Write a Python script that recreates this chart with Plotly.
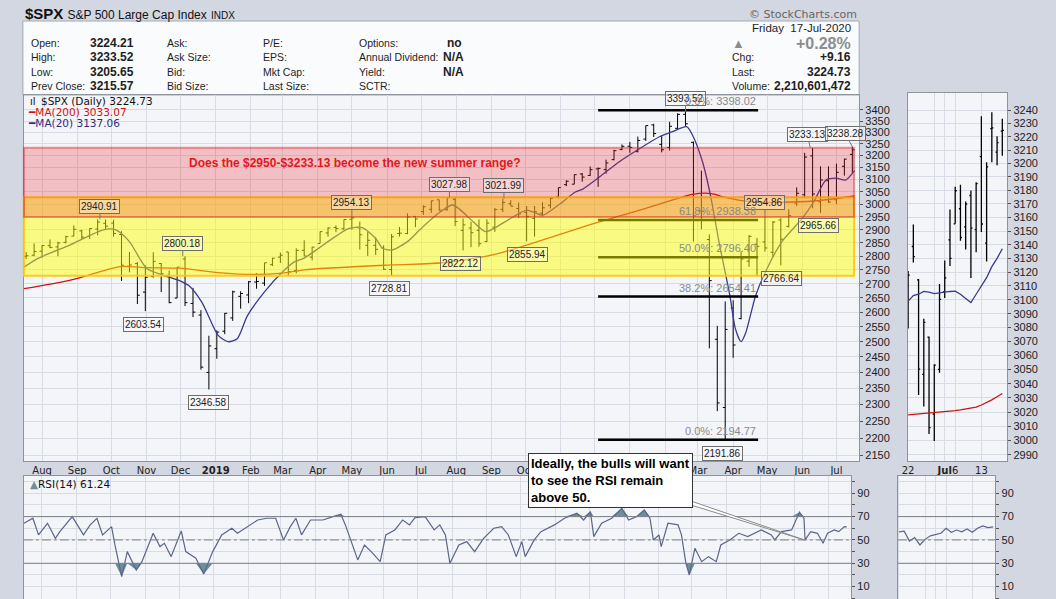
import math
import pandas as pd
import plotly.graph_objects as go

W, H = 1056, 599

# ---------------- data ----------------
# weekly bars (mid-week position), Jul 2018 - Jul 2020
week_mid = pd.date_range("2018-07-18", "2020-07-15", freq="W-WED")
wk_open = [2800, 2804, 2819, 2840, 2835, 2852, 2876, 2896, 2875, 2903, 2925, 2926, 2882, 2763, 2773, 2670, 2726, 2773, 2730, 2649, 2790, 2630, 2590, 2400,
           2477, 2535, 2580, 2655, 2660, 2706, 2702, 2769, 2797, 2816, 2747, 2822, 2797, 2848, 2888, 2909, 2904, 2941, 2908, 2841, 2841, 2831, 2751, 2886, 2886, 2952,
           2971, 2980, 3018, 2978, 3020, 2898, 2907, 2898, 2855, 2910, 2980, 3002, 2983, 2968, 2944, 2965, 2996, 3029, 3079, 3081, 3123, 3117, 3144, 3141, 3183, 3226,
           3240, 3217, 3271, 3333, 3248, 3235, 3318, 3380, 3257, 2974, 2863, 2508, 2291, 2614, 2578, 2782, 2845, 2854, 2815, 2938, 2913, 3005, 3038, 3199, 3010,
           3095, 3018, 3155, 3205]
wk_high = [2816, 2848, 2841, 2863, 2855, 2877, 2917, 2900, 2906, 2940.91, 2940, 2939, 2895, 2816, 2779, 2767, 2815, 2775, 2747, 2760, 2800.18, 2685, 2607, 2520,
           2538, 2597, 2675, 2673, 2709, 2738, 2776, 2794, 2814, 2816, 2830, 2860, 2835, 2893, 2910, 2917, 2940, 2954.13, 2932, 2892, 2871, 2841, 2884, 2911, 2964, 2953,
           2996, 3014, 3018, 3027.98, 3027, 2944, 2931, 2940, 2941, 2985, 3021.99, 3016, 3007, 2993, 2993, 3008, 3027, 3067, 3097, 3121, 3127, 3154, 3150, 3183, 3225, 3248,
           3259, 3282, 3330, 3338, 3285, 3347, 3385, 3393.52, 3260, 3137, 2882, 2553, 2637, 2641, 2819, 2880, 2869, 2954.86, 2934, 2945, 2980, 3068, 3212, 3233.13, 3155,
           3155, 3166, 3187, 3238.28]
wk_low = [2790, 2800, 2795, 2830, 2800, 2848, 2876, 2864, 2865, 2879, 2903, 2874, 2710, 2741, 2628, 2603.54, 2722, 2670, 2631, 2649, 2621, 2583, 2409, 2346.58,
          2444, 2525, 2570, 2612, 2631, 2682, 2692, 2764, 2775, 2728, 2737, 2800, 2785, 2848, 2874, 2891, 2898, 2900, 2825, 2801, 2805, 2750, 2728.81, 2874, 2883, 2910,
          2958, 2966, 2975, 2975, 2914, 2822.12, 2834, 2836, 2853, 2892, 2969, 2993, 2946, 2855.94, 2874, 2952, 2983, 3023, 3073, 3081, 3091, 3115, 3070, 3124, 3180, 3223,
          3212, 3214, 3263, 3280, 3214, 3222, 3315, 3328, 2855, 2902, 2478, 2280, 2191.86, 2447, 2575, 2761, 2727, 2817, 2797, 2766.64, 2909, 2993, 3026, 2984, 2965.66,
          3005, 3000, 3116, 3128]
wk_close = [2802, 2818, 2840, 2833, 2850, 2874, 2902, 2872, 2905, 2930, 2914, 2886, 2767, 2768, 2659, 2723, 2781, 2736, 2633, 2760, 2633, 2600, 2417, 2486,
            2532, 2596, 2671, 2665, 2707, 2708, 2776, 2793, 2804, 2743, 2822, 2801, 2834, 2893, 2907, 2905, 2940, 2946, 2881, 2860, 2826, 2752, 2873, 2887, 2950, 2942,
            2990, 3014, 2977, 3026, 2932, 2919, 2889, 2847, 2926, 2979, 3007, 2992, 2962, 2952, 2970, 2986, 3023, 3067, 3093, 3120, 3110, 3141, 3146, 3169, 3221, 3240,
            3235, 3265, 3330, 3295, 3225, 3327, 3380, 3338, 2954, 2972, 2711, 2305, 2541, 2489, 2790, 2875, 2837, 2831, 2930, 2864, 2955, 3044, 3194, 3041, 3098,
            3009, 3130, 3185, 3224.73]

ma200_dates = ["2018-07-16", "2018-08-26", "2018-10-09", "2018-11-01", "2018-12-01", "2019-01-03", "2019-02-04", "2019-03-01", "2019-03-20",
               "2019-06-05", "2019-07-20", "2019-09-02", "2019-10-02", "2019-11-27", "2020-01-15", "2020-02-25", "2020-03-13", "2020-03-23",
               "2020-04-17", "2020-05-14", "2020-06-11", "2020-07-17"]
ma200_vals = [2682, 2713, 2762, 2758, 2756, 2740, 2733, 2738, 2750, 2768, 2776, 2805, 2842, 2920, 2984, 3040, 3043, 3030, 3010, 3008, 3013, 3033.07]

ma20_dates = ["2018-07-16", "2018-07-29", "2018-08-26", "2018-09-24", "2018-10-05", "2018-10-17", "2018-11-01", "2018-11-14", "2018-11-29",
              "2018-12-08", "2018-12-20", "2019-01-03", "2019-01-12", "2019-01-20", "2019-01-29", "2019-02-13", "2019-03-01", "2019-03-12",
              "2019-03-20", "2019-04-10", "2019-04-28", "2019-05-10", "2019-05-22", "2019-05-28", "2019-06-05", "2019-06-19", "2019-07-01",
              "2019-07-18", "2019-07-29", "2019-08-16", "2019-08-27", "2019-09-13", "2019-10-02", "2019-10-16", "2019-10-30", "2019-11-14",
              "2019-11-20", "2019-12-05", "2019-12-23", "2020-01-09", "2020-01-27", "2020-02-07", "2020-02-20", "2020-02-25", "2020-03-05",
              "2020-03-12", "2020-03-20", "2020-03-29", "2020-04-03", "2020-04-08", "2020-04-12", "2020-04-21", "2020-05-01", "2020-05-14",
              "2020-06-01", "2020-06-11", "2020-06-22", "2020-07-01", "2020-07-09", "2020-07-17"]
ma20_vals = [2760, 2793, 2843, 2900, 2900, 2855, 2756, 2733, 2713, 2694, 2633, 2522, 2500, 2510, 2588, 2671, 2743, 2781, 2793, 2855, 2905, 2908,
             2867, 2830, 2823, 2855, 2905, 2970, 2997, 2931, 2893, 2931, 2977, 2957, 2997, 3049, 3060, 3110, 3175, 3228, 3281, 3302, 3325, 3290,
             3174, 3036, 2843, 2660, 2543, 2500, 2529, 2660, 2756, 2855, 2945, 3010, 3099, 3106, 3098, 3137.06]

# Fibonacci retracement
fib_start, fib_end = "2019-12-04", "2020-04-23"
fib_levels = [3398.02, 2938.38, 2796.40, 2654.41, 2194.77]
fib_names = ["0.0%", "61.8%", "50.0%", "38.2%", "0.0%"]

# shaded ranges
yellow_lo, yellow_hi = 2728.81, 3027.98
pink_lo, pink_hi = 2950, 3233.13

# price labels on swing highs / lows
label_dates = ["2018-09-21", "2018-10-29", "2018-12-03", "2018-12-26", "2019-05-01", "2019-06-03", "2019-07-26", "2019-08-05", "2019-09-12",
               "2019-10-03", "2020-02-19", "2020-03-23", "2020-04-29", "2020-05-14", "2020-06-08", "2020-06-15", "2020-07-15"]
label_vals = [2940.91, 2603.54, 2800.18, 2346.58, 2954.13, 2728.81, 3027.98, 2822.12, 3021.99, 2855.94, 3393.52, 2191.86, 2954.86, 2766.64,
              3233.13, 2965.66, 3238.28]
label_up = [True, False, True, False, True, False, True, False, True, False, True, False, True, False, True, False, True]

# last four weeks, daily (right panel)
recent_dates = ["2020-06-22", "2020-06-23", "2020-06-24", "2020-06-25", "2020-06-26", "2020-06-29", "2020-06-30", "2020-07-01", "2020-07-02",
                "2020-07-06", "2020-07-07", "2020-07-08", "2020-07-09", "2020-07-10", "2020-07-13", "2020-07-14", "2020-07-15", "2020-07-16",
                "2020-07-17"]
d_open = [3094.4, 3138.7, 3114.4, 3046.6, 3073.2, 3018.6, 3050.2, 3105.9, 3143.6, 3155.3, 3166.4, 3153.1, 3176.2, 3151.0, 3205.1, 3141.1, 3226.0, 3208.4, 3224.21]
d_high = [3120.9, 3154.9, 3115.0, 3086.3, 3073.7, 3053.9, 3111.5, 3128.4, 3165.8, 3182.6, 3184.2, 3171.8, 3179.8, 3186.0, 3235.3, 3200.9, 3238.3, 3220.4, 3233.52]
d_low = [3079.4, 3127.1, 3032.1, 3024.0, 3004.6, 2999.7, 3047.8, 3101.2, 3124.5, 3155.3, 3142.9, 3136.5, 3115.7, 3134.5, 3149.4, 3127.7, 3200.8, 3198.6, 3205.65]
d_close = [3117.9, 3131.3, 3050.3, 3083.8, 3009.1, 3053.2, 3100.3, 3115.9, 3130.0, 3179.7, 3145.3, 3169.9, 3152.1, 3185.0, 3155.2, 3197.5, 3226.6, 3215.57, 3224.73]
d_ma20 = [3099, 3103, 3104, 3106, 3105.5, 3104.5, 3105, 3105.7, 3106, 3106.3, 3104, 3101, 3098, 3104, 3110, 3116, 3124, 3130, 3137.06]
d_ma200 = [3018.0, 3018.3, 3018.6, 3018.9, 3019.1, 3019.4, 3019.7, 3020.1, 3020.5, 3021.0, 3021.5, 3022.1, 3022.7, 3023.5, 3025.0, 3026.7,
           3028.6, 3030.8, 3033.07]
d_rsi = [57, 57.5, 49, 52, 45.7, 50.5, 53.5, 54.9, 55.7, 60, 56.6, 58.5, 57, 59.4, 56.6, 60, 62, 60.6, 61.24]

rsi_dates = ["2018-07-16", "2018-07-24", "2018-07-29", "2018-08-06", "2018-08-13", "2018-08-17", "2018-08-28", "2018-09-07", "2018-09-13",
             "2018-09-19", "2018-09-24", "2018-10-02", "2018-10-05", "2018-10-11", "2018-10-16", "2018-10-24", "2018-10-29", "2018-11-08",
             "2018-11-14", "2018-11-18", "2018-11-24", "2018-12-03", "2018-12-07", "2018-12-16", "2018-12-23", "2018-12-31", "2019-01-08",
             "2019-01-17", "2019-01-22", "2019-01-31", "2019-02-09", "2019-02-17", "2019-02-25", "2019-03-04", "2019-03-10", "2019-03-15",
             "2019-03-20", "2019-03-28", "2019-04-08", "2019-04-17", "2019-04-24", "2019-04-28", "2019-05-05", "2019-05-09", "2019-05-15",
             "2019-05-21", "2019-05-29", "2019-06-03", "2019-06-11", "2019-06-18", "2019-06-24", "2019-06-29", "2019-07-08", "2019-07-16",
             "2019-07-21", "2019-07-26", "2019-07-30", "2019-08-07", "2019-08-14", "2019-08-21", "2019-08-29", "2019-09-07", "2019-09-14",
             "2019-09-20", "2019-09-27", "2019-10-02", "2019-10-05", "2019-10-13", "2019-10-19", "2019-10-31", "2019-11-09", "2019-11-20",
             "2019-11-26", "2019-12-02", "2019-12-05", "2019-12-12", "2019-12-21", "2019-12-30", "2020-01-05", "2020-01-12", "2020-01-19",
             "2020-01-24", "2020-01-27", "2020-02-01", "2020-02-03", "2020-02-09", "2020-02-18", "2020-02-21", "2020-02-25", "2020-02-28",
             "2020-03-04", "2020-03-10", "2020-03-16", "2020-03-23", "2020-03-27", "2020-04-04", "2020-04-12", "2020-04-20", "2020-05-02",
             "2020-05-11", "2020-05-14", "2020-05-20", "2020-05-29", "2020-06-05", "2020-06-09", "2020-06-10", "2020-06-15", "2020-06-21",
             "2020-06-26", "2020-06-30", "2020-07-06", "2020-07-10", "2020-07-15", "2020-07-17"]
rsi_vals = [64.3, 68.6, 54.3, 64.3, 51.4, 57.1, 70.0, 54.3, 62.9, 68.6, 54.3, 61.4, 45.7, 18.6, 40.0, 24.3, 31.4, 55.7, 44.3, 47.1, 35.7, 57.7,
            40.0, 34.3, 20.9, 40.0, 54.3, 60.0, 55.7, 61.4, 67.1, 68.6, 68.6, 50.0, 61.4, 68.6, 54.3, 67.1, 67.1, 70.0, 72.0, 62.9, 44.3, 32.9,
            45.7, 40.0, 31.4, 54.3, 58.6, 67.1, 62.9, 69.1, 70.0, 58.6, 62.9, 54.3, 30.0, 45.7, 48.6, 40.0, 51.4, 60.0, 61.4, 54.3, 35.7, 48.6,
            35.7, 50.0, 57.1, 62.9, 68.6, 72.9, 67.1, 74.3, 52.9, 64.3, 68.6, 77.1, 67.1, 70.0, 75.7, 68.6, 50.0, 54.3, 44.3, 64.3, 62.9, 54.3,
            30.0, 20.0, 42.9, 31.4, 35.7, 31.4, 45.7, 50.0, 55.7, 52.9, 58.6, 54.3, 50.0, 57.1, 58.6, 73.7, 68.6, 50.0, 57.1, 55.7, 47.1, 55.7,
            58.6, 57.1, 61.4, 61.24]

month_ticks = pd.date_range("2018-08-01", "2020-07-01", freq="MS")
# month names; the ones sitting under the callout box are hidden there, as in the original
hidden_months = {"2019-11", "2019-12", "2020-01", "2020-02"}
month_text = ["" if d.strftime("%Y-%m") in hidden_months else ("<b>%d</b>" % d.year if d.month == 1 else d.strftime("%b"))
              for d in month_ticks]
price_ticks = list(range(2150, 3401, 50))
mini_ticks = list(range(2990, 3241, 10))
mini_tickvals = ["2020-06-22", "2020-06-29", "2020-07-01", "2020-07-06", "2020-07-13"]
mini_ticktext = ["22", "", "<b>Jul</b>", "6", "13"]


def px(x):
    return x / W


def py(y):
    return 1 - y / H


BG = "#D3D7E1"
PLOT_BG = "#F4F5F9"
GRID = "#D8DBE3"
FRAME = "#8E939E"
ARIAL = "Liberation Sans, Arial"
VERD = "DejaVu Sans, Verdana"

fig = go.Figure()

# main price panel
fig.add_trace(go.Ohlc(x=week_mid, open=wk_open, high=wk_high, low=wk_low, close=wk_close,
                      increasing_line_color="black", decreasing_line_color="black",
                      line_width=1, tickwidth=0.3, hoverinfo="skip", xaxis="x", yaxis="y"))
fig.add_trace(go.Scatter(x=ma200_dates, y=ma200_vals, mode="lines",
                         line=dict(color="#CC1414", width=1.3, shape="spline", smoothing=0.7), xaxis="x", yaxis="y"))
fig.add_trace(go.Scatter(x=ma20_dates, y=ma20_vals, mode="lines",
                         line=dict(color="#3A3A8E", width=1.3, shape="spline", smoothing=0.7), xaxis="x", yaxis="y"))
for lev in fib_levels:
    fig.add_trace(go.Scatter(x=[fib_start, fib_end], y=[lev, lev], mode="lines",
                             line=dict(color="black", width=2.5), xaxis="x", yaxis="y"))

# zoomed daily panel
fig.add_trace(go.Ohlc(x=recent_dates, open=d_open, high=d_high, low=d_low, close=d_close,
                      increasing_line_color="black", decreasing_line_color="black",
                      line_width=1.3, tickwidth=0.3, hoverinfo="skip", xaxis="x2", yaxis="y2"))
fig.add_trace(go.Scatter(x=recent_dates, y=d_ma20, mode="lines", line=dict(color="#3A3A8E", width=1.3),
                         xaxis="x2", yaxis="y2"))
fig.add_trace(go.Scatter(x=recent_dates, y=d_ma200, mode="lines", line=dict(color="#CC1414", width=1.3),
                         xaxis="x2", yaxis="y2"))

# RSI panel with shaded overbought / oversold parts
rsi_hi = [max(v, 70) for v in rsi_vals]
rsi_lo = [min(v, 30) for v in rsi_vals]
fig.add_trace(go.Scatter(x=rsi_dates, y=[70] * len(rsi_dates), mode="lines", line=dict(width=0), xaxis="x3", yaxis="y3"))
fig.add_trace(go.Scatter(x=rsi_dates, y=rsi_hi, mode="lines", line=dict(width=0), fill="tonexty",
                         fillcolor="#6F8E9C", xaxis="x3", yaxis="y3"))
fig.add_trace(go.Scatter(x=rsi_dates, y=[30] * len(rsi_dates), mode="lines", line=dict(width=0), xaxis="x3", yaxis="y3"))
fig.add_trace(go.Scatter(x=rsi_dates, y=rsi_lo, mode="lines", line=dict(width=0), fill="tonexty",
                         fillcolor="#6F8E9C", xaxis="x3", yaxis="y3"))
fig.add_trace(go.Scatter(x=rsi_dates, y=rsi_vals, mode="lines", line=dict(color="#5B6788", width=1.2),
                         xaxis="x3", yaxis="y3"))
fig.add_trace(go.Scatter(x=recent_dates, y=d_rsi, mode="lines", line=dict(color="#5B6788", width=1.2),
                         xaxis="x4", yaxis="y4"))

shapes = []
# header box
shapes.append(dict(type="rect", xref="paper", yref="paper", x0=px(17), x1=px(858), y0=py(95), y1=py(21),
                   fillcolor="#FAFBFD", line=dict(color="#A3A8B3", width=1), layer="below"))
# shaded ranges (drawn over the bars so they tint them)
shapes.append(dict(type="rect", xref="x domain", yref="y", x0=0, x1=0.994, y0=yellow_lo, y1=yellow_hi,
                   fillcolor="rgba(255,255,0,0.48)", line=dict(color="rgba(255,200,0,0.9)", width=2), layer="above"))
shapes.append(dict(type="rect", xref="x domain", yref="y", x0=0, x1=0.994, y0=pink_lo, y1=pink_hi,
                   fillcolor="rgba(230,30,40,0.25)", line=dict(color="rgba(215,30,40,0.45)", width=2), layer="above"))
# RSI reference lines
for ax in ("3", "4"):
    for lev, dash in ((70, "solid"), (30, "solid"), (50, "dashdot")):
        shapes.append(dict(type="line", xref="x%s domain" % ax, yref="y" + ax, x0=0, x1=1, y0=lev, y1=lev,
                           line=dict(color="#7A7F8A", width=1, dash=dash), layer="above"))
# callout tail
shapes.append(dict(type="path", xref="paper", yref="paper",
                   path="M %.5f,%.5f L %.5f,%.5f L %.5f,%.5f Z" % (px(666), py(498), px(680), py(498), px(803), py(540)),
                   fillcolor="white", line=dict(color="#8A8A8A", width=1), layer="above"))

ann = []


def text(x, y, s, size=10.5, color="#1E1E1E", anchor="left", family=ARIAL, yanchor="middle"):
    ann.append(dict(x=px(x), y=py(y), xref="paper", yref="paper", text=s, showarrow=False, xanchor=anchor,
                    yanchor=yanchor, font=dict(size=size, color=color, family=family)))


# title line
text(17, 13, "<b>$SPX</b> <span style='font-size:12px'>S&P 500 Large Cap Index</span> "
             "<span style='font-size:10px'>INDX</span>", size=15, color="#111")
text(858, 14, "© StockCharts.com", size=11, color="#666", anchor="right", family=VERD)

# header table
rows = [43, 57, 72, 86]
col1 = ["Open:", "High:", "Low:", "Prev Close:"]
val1 = ["3224.21", "3233.52", "3205.65", "3215.57"]
col2 = ["Ask:", "Ask Size:", "Bid:", "Bid Size:"]
col3 = ["P/E:", "EPS:", "Mkt Cap:", "Last Size:"]
col4 = ["Options:", "Annual Dividend:", "Yield:", "SCTR:"]
val4 = ["no", "N/A", "N/A", ""]
for i, y in enumerate(rows):
    text(23, y, col1[i])
    text(82, y, "<b>%s</b>" % val1[i], size=12)
    text(160, y, col2[i])
    text(256, y, col3[i])
    text(353, y, col4[i])
    if val4[i]:
        text(442 if val4[i] == "no" else 437, y, "<b>%s</b>" % val4[i], size=12)

text(852, 28, "Friday  17-Jul-2020", size=11.5, anchor="right")
text(737, 43, "▲", size=13, color="#8C8C8C", anchor="center")
text(852, 43, "<b>+0.28%</b>", size=16, color="#8C8C8C", anchor="right")
for y, lab, val in ((57, "Chg:", "+9.16"), (72, "Last:", "3224.73"), (86, "Volume:", "2,210,601,472")):
    text(728, y, lab)
    text(852, y, "<b>%s</b>" % val, size=12, anchor="right")

# legends
text(33, 101, "$SPX (Daily) 3224.73", size=10.5, family=VERD, color="#111")
text(22, 101, "ıl", size=10, family=VERD, color="#111")
text(20, 112, "<span style='color:#CC1414'>━MA(200) 3033.07</span>", size=10.5, family=VERD)
text(20, 123, "<span style='color:#2E2E80'>━MA(20) 3137.06</span>", size=10.5, family=VERD)
text(22, 484, "<span style='color:#6F8E9C'>▲</span>RSI(14) 61.24", size=10.5, family=VERD, color="#111")

text(350, 163, "<b>Does the $2950-$3233.13 become the new summer range?</b>", size=12, color="#E3171E",
     anchor="center")

# callout
ann.append(dict(x=px(525), y=py(453), xref="paper", yref="paper", xanchor="left", yanchor="top",
                text="<b>Ideally, the bulls will want<br>to see the RSI remain<br>above 50.</b>", align="left",
                showarrow=False, bgcolor="white", bordercolor="#333", borderwidth=1, borderpad=2,
                font=dict(size=13, color="black", family=ARIAL)))

# swing labels
label_shift = {"2020-06-08": -3, "2020-07-15": -7}
for d, v, up in zip(label_dates, label_vals, label_up):
    ann.append(dict(x=d, y=math.log10(v), xref="x", yref="y", text="%.2f" % v, showarrow=True,
                    arrowhead=0, arrowwidth=1, arrowcolor="#777", ax=label_shift.get(d, 0), ay=-13 if up else 13,
                    bgcolor="rgba(255,255,255,0.35)", bordercolor="#6E6E6E", borderwidth=1, borderpad=1,
                    font=dict(size=10, color="#222", family=ARIAL)))

# fibonacci labels
for lev, nm in zip(fib_levels, fib_names):
    ann.append(dict(x=fib_end, y=math.log10(lev), xref="x", yref="y", text="%s: %.2f" % (nm, lev),
                    showarrow=False, xanchor="right", yanchor="bottom", yshift=1,
                    font=dict(size=11, color="#8A8A8A", family=ARIAL)))

axis_common = dict(showline=True, mirror=True, linecolor=FRAME, linewidth=1, gridcolor=GRID, showgrid=True,
                   zeroline=False, tickfont=dict(size=11, color="#222", family=ARIAL))

fig.update_layout(
    width=W, height=H, margin=dict(l=0, r=0, t=0, b=0),
    paper_bgcolor=BG, plot_bgcolor=PLOT_BG, showlegend=False,
    shapes=shapes, annotations=ann,
    xaxis=dict(axis_common, domain=[px(18), px(858)], type="date", range=["2018-07-16", "2020-07-21"],
               tickvals=month_ticks, ticktext=month_text, ticks="", anchor="y", tickangle=0,
               tickfont=dict(size=10, color="#222", family=VERD), rangeslider=dict(visible=False)),
    yaxis=dict(axis_common, domain=[py(461), py(95)], type="log",
               range=[math.log10(2134), math.log10(3468)], tickvals=price_ticks, side="right",
               ticks="outside", ticklen=3, tickcolor="#555", anchor="x"),
    xaxis2=dict(axis_common, domain=[px(907), px(1007)], type="category", range=[-0.05, 18.95],
                tickvals=mini_tickvals, ticktext=mini_ticktext, ticks="", anchor="y2", tickangle=0,
                tickfont=dict(size=10, color="#222", family=VERD), rangeslider=dict(visible=False)),
    yaxis2=dict(axis_common, domain=[py(461), py(93)], type="log",
                range=[math.log10(2985.8), math.log10(3252.9)], tickvals=mini_ticks, side="right",
                ticks="outside", ticklen=3, tickcolor="#555", anchor="x2"),
    xaxis3=dict(axis_common, domain=[px(18), px(850)], type="date", range=["2018-07-16", "2020-07-21"],
                tickvals=month_ticks, showticklabels=False, anchor="y3"),
    yaxis3=dict(axis_common, domain=[0, py(476)], range=[-0.6, 104.8], tickvals=list(range(0, 101, 10)),
                ticktext=["", "10", "", "30", "", "50", "", "70", "", "90", ""], side="right",
                ticks="outside", ticklen=3, tickcolor="#555", anchor="x3"),
    xaxis4=dict(axis_common, domain=[px(897), px(995)], type="category", range=[-0.2, 18.4],
                tickvals=mini_tickvals, showticklabels=False, anchor="y4"),
    yaxis4=dict(axis_common, domain=[0, py(476)], range=[-0.6, 104.8], tickvals=list(range(0, 101, 10)),
                ticktext=["", "10", "", "30", "", "50", "", "70", "", "90", ""], side="right",
                ticks="outside", ticklen=3, tickcolor="#555", anchor="x4"),
)

fig.write_html("out.html", config={"displayModeBar": False},
               post_script="document.body.style.margin='0';")
